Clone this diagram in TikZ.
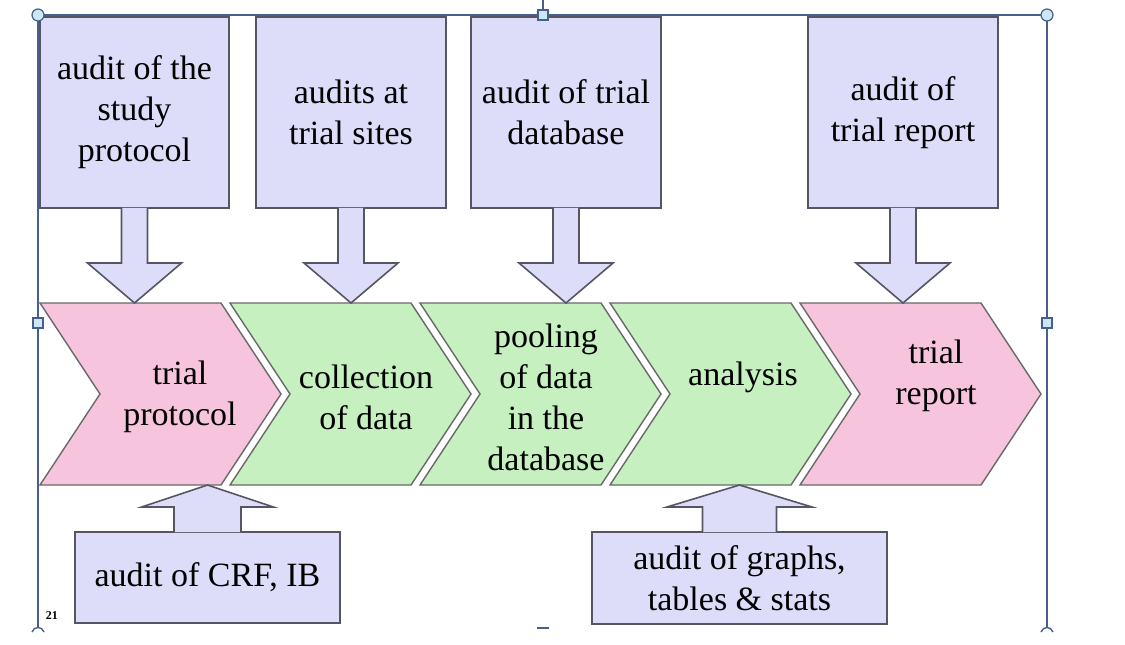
\documentclass[tikz,border=0pt]{standalone}
\usepackage{fontspec}
\setmainfont{Liberation Serif}
\usetikzlibrary{calc}

\definecolor{auditfill}{RGB}{221,221,250}
\definecolor{auditline}{RGB}{85,85,100}
\definecolor{stagepink}{RGB}{247,196,221}
\definecolor{stagegreen}{RGB}{198,240,192}
\definecolor{stageline}{RGB}{105,105,105}
\definecolor{framecol}{RGB}{70,95,140}
\definecolor{handlefill}{RGB}{205,232,242}

\begin{document}
\begin{tikzpicture}[
  x=0.5pt, y=-0.5pt,
  font=\rmfamily\fontsize{17}{20.5}\selectfont,
  auditbox/.style={
    draw=auditline,
    fill=auditfill,
    line width=0.8pt,
    align=center,
    inner sep=0pt
  },
  blockarrow/.style={
    draw=auditline,
    fill=auditfill,
    line width=0.8pt
  },
  stage/.style={
    draw=stageline,
    line width=0.7pt
  },
  stage text/.style={
    align=center,
    inner sep=0pt
  },
  frameline/.style={
    draw=framecol,
    line width=0.7pt
  },
  handle/.style={
    draw=framecol,
    fill=handlefill,
    line width=0.6pt
  }
]
\useasboundingbox (0,0) rectangle (1125,644);

% Selection frame
\draw[frameline] (38,15) -- (1047,15);
\draw[frameline] (38,15) -- (38,628);
\draw[frameline] (1047,15) -- (1047,628);
\draw[frameline] (543,0) -- (543,10);
\draw[frameline] (32,632) .. controls (34,626) and (42,626) .. (44,632);
\draw[frameline] (1041,632) .. controls (1043,626) and (1051,626) .. (1053,632);
\draw[frameline, line width=1.4pt] (537,628) -- (549,628);

% Stages
\coordinate (top) at (0,303);
\coordinate (bot) at (0,485);
\foreach \x/\col in {40/stagepink, 230/stagegreen, 420/stagegreen, 610/stagegreen, 800/stagepink}
  \filldraw[stage, fill=\col] (\x,303) -- ++(181,0) -- ++(60,91) -- ++(-60,91) -- ++(-181,0) -- ++(60,-91) -- cycle;

\node[stage text] (c1) at (180,397) {trial\\protocol};
\node[stage text] (c2) at (366,397) {collection\\of data};
\node[stage text] (c3) at (546,397) {pooling\\of data\\in the\\database};
\node[stage text] (c4) at (743,377) {analysis};
\node[stage text] (c5) at (936,376) {trial\\report};

% Audits above
\node[auditbox, minimum width=94.5pt, minimum height=95.5pt] (a1) at (134.5,112.5) {audit of the\\study\\protocol};
\node[auditbox, minimum width=95pt, minimum height=95.5pt] (a2) at (351,112.5) {audits at\\trial sites};
\node[auditbox, minimum width=95pt, minimum height=95.5pt] (a3) at (566,112.5) {audit of trial\\database};
\node[auditbox, minimum width=95pt, minimum height=95.5pt] (a4) at (903,112.5) {audit of\\trial report};

\foreach \n in {a1,a2,a3,a4}
  \filldraw[blockarrow] ($(\n.south)+(-13,-1)$) -- ($(\n.south |- top)+(-13,-40)$) -- ($(\n.south |- top)+(-47,-40)$)
    -- (\n.south |- top) -- ($(\n.south |- top)+(47,-40)$) -- ($(\n.south |- top)+(13,-40)$) -- ($(\n.south)+(13,-1)$);

% Audits below
\node[auditbox, minimum width=132.5pt, minimum height=45.5pt] (b1) at (207.5,577.5) {audit of CRF, IB};
\node[auditbox, minimum width=147.5pt, minimum height=46pt] (b2) at (739.5,578) {audit of graphs,\\tables \& stats};

\foreach \n/\s/\h in {b1/33.5/66, b2/37/72.5}
  \filldraw[blockarrow] ($(\n.north)+(-\s,1)$) -- ($(\n.north |- bot)+(-\s,22)$) -- ($(\n.north |- bot)+(-\h,22)$)
    -- (\n.north |- bot) -- ($(\n.north |- bot)+(\h,22)$) -- ($(\n.north |- bot)+(\s,22)$) -- ($(\n.north)+(\s,1)$);

% Handles
\draw[handle] (38,15) circle (6);
\draw[handle] (1047,15) circle (6);
\draw[handle] (538,10) rectangle (548,20);
\draw[handle] (33,318) rectangle (43,328);
\draw[handle] (1042,318) rectangle (1052,328);

\node[font=\rmfamily\fontsize{6}{7}\selectfont\bfseries, inner sep=0pt] (pg) at (52,616) {21};

\end{tikzpicture}
\end{document}
